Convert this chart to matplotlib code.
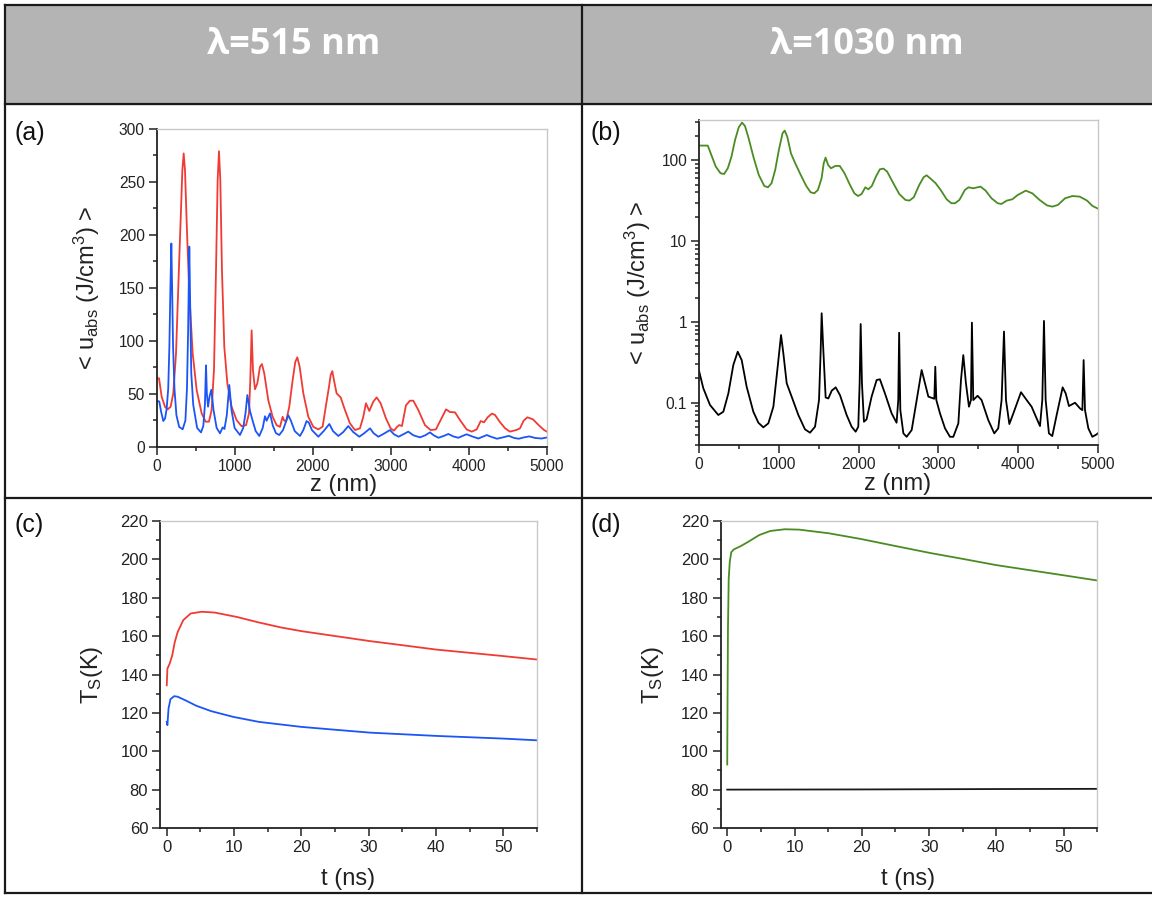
import matplotlib
matplotlib.use("Agg")
import matplotlib.pyplot as plt
from matplotlib.lines import Line2D
from matplotlib.patches import Rectangle
from matplotlib.ticker import MultipleLocator, LogLocator, NullFormatter

plt.rcParams['font.family'] = ['Liberation Sans', 'DejaVu Sans']
plt.rcParams['mathtext.fontset'] = 'custom'
plt.rcParams['mathtext.rm'] = 'Liberation Sans'
plt.rcParams['mathtext.it'] = 'Liberation Sans:italic'

# ---- data ----
# (a) lambda = 515 nm, absorbed energy density vs depth z (nm)
za_red = [0, 32, 66, 109, 143, 181, 215, 250, 279, 309, 331, 348, 365, 390,
          420, 463, 514, 578, 629, 672, 706, 736, 762, 783, 800, 817, 838,
          868, 907, 962, 1026, 1090, 1146, 1184, 1201, 1218, 1235, 1261,
          1291, 1325, 1350, 1380, 1431, 1487, 1538, 1581, 1615, 1632, 1658,
          1700, 1743, 1777, 1803, 1833, 1880, 1944, 2008, 2072, 2127, 2170,
          2209, 2230, 2251, 2272, 2306, 2358, 2413, 2477, 2541, 2605, 2648,
          2682, 2725, 2776, 2819, 2870, 2938, 2998, 3040, 3083, 3109, 3143,
          3194, 3245, 3288, 3352, 3437, 3510, 3578, 3638, 3707, 3758, 3822,
          3886, 3971, 4036, 4100, 4151, 4194, 4240, 4295, 4335, 4393, 4464,
          4526, 4606, 4654, 4701, 4749, 4820, 4891, 4962, 5000]
ua_red = [64.8, 64.8, 47.5, 37.9, 35.5, 38, 50.6, 88.4, 151, 214, 261, 277,
          261, 204, 145, 88.4, 53.8, 31.8, 23.9, 23.9, 35, 72.7, 167, 252,
          279, 252, 167, 94.6, 60, 37.9, 25.3, 19.6, 20.6, 31.6, 63, 110,
          72.7, 54.5, 60, 75.7, 78.2, 69.4, 44.2, 28.5, 20.6, 19, 28.5, 25.3,
          23.9, 38, 63, 80.3, 84.6, 75.7, 50.6, 28.5, 19, 16.6, 19.2, 39.3,
          56.9, 67.9, 71.6, 63.2, 50.6, 46.8, 34.9, 22.3, 16, 17.6, 28.6,
          41.2, 34, 42.8, 46.8, 41.2, 27, 17.6, 15.4, 19.2, 20.7, 19.8,
          39.3, 43.7, 43.7, 34.9, 20.7, 16, 16.6, 25.4, 35.5, 33, 32.7,
          25.4, 16.6, 14.5, 16.6, 24.5, 23.3, 28, 31.5, 30.2, 23.9, 17.6,
          14.5, 16, 17.6, 24.9, 28, 26.1, 20.8, 16, 14.5]
za_blue = [0, 35, 60, 87, 110, 130, 150, 165, 178, 190, 200, 212, 230, 255,
           290, 335, 370, 390, 405, 420, 430, 445, 470, 520, 570, 600, 620,
           634, 645, 660, 680, 702, 730, 770, 813, 847, 870, 900, 932, 960,
           1000, 1069, 1110, 1140, 1163, 1197, 1230, 1270, 1316, 1360, 1389,
           1410, 1453, 1490, 1530, 1572, 1620, 1687, 1720, 1770, 1837, 1880,
           1922, 1950, 1990, 2072, 2140, 2213, 2260, 2328, 2390, 2456, 2520,
           2597, 2660, 2734, 2780, 2840, 2910, 2990, 3040, 3100, 3160, 3224,
           3290, 3374, 3440, 3502, 3550, 3610, 3680, 3737, 3800, 3865, 3920,
           3972, 4040, 4121, 4170, 4228, 4290, 4360, 4430, 4511, 4580, 4640,
           4700, 4772, 4850, 4930, 5000]
ua_blue = [43.4, 43, 33, 24.5, 27, 36, 55, 95, 150, 192, 150, 95, 55, 30,
           19, 16.7, 25, 55, 110, 189, 140, 70, 40, 18, 13.8, 20, 40,
           77, 50, 38, 48, 54, 35, 18, 12.9, 18.5, 17, 30, 58.5, 35,
           18, 11.3, 18, 32, 49, 34, 25, 15, 10.4, 18, 29,
           24.8, 31.7, 20, 13, 11.3, 16, 30, 25, 15, 10.4, 16,
           24.5, 23, 16, 9.7, 15, 21.7, 15, 10.4, 14, 19.8, 14,
           9.7, 13, 17.6, 13, 9.7, 12.5, 16, 12, 9.7, 12, 14.5,
           11, 9.1, 11, 13.8, 11, 8.7, 10.5, 12.3, 10, 8.7, 10.5,
           12, 10, 8, 9.5, 11.3, 9.5, 7.8, 9, 10.5, 8.5, 7.8,
           9, 10, 8.5, 8, 9]

# (b) lambda = 1030 nm (log scale)
zb_green = [0, 110, 155, 210, 270, 315, 361, 407, 452, 498, 539, 576, 622,
            681, 749, 818, 864, 909, 955, 1001, 1047, 1074, 1106, 1152, 1206,
            1275, 1344, 1398, 1444, 1490, 1536, 1563, 1586, 1618, 1654, 1709,
            1764, 1824, 1892, 1947, 1993, 2038, 2084, 2121, 2166, 2221, 2267,
            2312, 2358, 2431, 2509, 2587, 2637, 2692, 2760, 2815, 2852, 2907,
            2966, 3034, 3103, 3162, 3208, 3263, 3332, 3377, 3437, 3528, 3592,
            3665, 3743, 3789, 3857, 3926, 3994, 4095, 4177, 4268, 4360, 4428,
            4497, 4588, 4680, 4771, 4863, 4931, 5000]
ub_green = [152, 152, 116, 83.5, 69, 67.7, 79.6, 111, 178.6, 256, 292.6, 266,
            187, 111, 65.8, 48.1, 46.3, 51.9, 75.9, 134.4, 216, 233, 196, 122,
            91.8, 65.8, 48.1, 40.2, 39, 42.9, 59.8, 91.8, 108, 87.5, 79.6,
            85.1, 85.1, 69, 49.5, 39, 36.1, 38.3, 46.3, 43.7, 48.1, 64, 77.4,
            78.9, 72.4, 52.9, 38.3, 32.3, 31.7, 34.9, 49.5, 61.7, 65.2, 58.7,
            51.9, 42.1, 32.9, 29.4, 29.4, 32.3, 42.9, 46.3, 45, 47.2, 42.1,
            33.9, 29.4, 28.8, 31.7, 32.9, 37.2, 42.1, 39, 32.3, 27.7, 26.7,
            28, 33.9, 36.1, 35.5, 31.7, 27.2, 25.2]
zb_black = [0, 54, 138, 242, 305, 368, 430, 485, 535, 597, 681, 744, 806, 869,
            932, 986, 1028, 1057, 1099, 1161, 1245, 1328, 1391, 1454, 1504,
            1525, 1537, 1558, 1587, 1621, 1663, 1713, 1767, 1850, 1913, 1963,
            1996, 2013, 2026, 2042, 2067, 2100, 2163, 2226, 2267, 2330, 2414,
            2476, 2497, 2508, 2523, 2561, 2602, 2665, 2728, 2790, 2832, 2874,
            2949, 2961, 2974, 3020, 3083, 3145, 3187, 3250, 3283, 3312, 3345,
            3383, 3408, 3420, 3437, 3491, 3541, 3625, 3700, 3750, 3792, 3822,
            3847, 3889, 3939, 4035, 4106, 4168, 4231, 4273, 4302, 4323, 4344,
            4385, 4427, 4482, 4557, 4595, 4636, 4712, 4775, 4804, 4820, 4837,
            4879, 4929, 4983, 5000]
ub_black = [0.249, 0.151, 0.0937, 0.0705, 0.0774, 0.1306, 0.293, 0.428, 0.337,
            0.158, 0.0774, 0.0566, 0.0496, 0.0556, 0.0893, 0.279, 0.689, 0.408,
            0.174, 0.119, 0.0705, 0.0469, 0.0426, 0.0505, 0.108, 0.449, 1.28,
            0.449, 0.116, 0.113, 0.141, 0.155, 0.124, 0.0705, 0.0505, 0.0438,
            0.0505, 0.174, 0.942, 0.174, 0.0582, 0.0623, 0.119, 0.191, 0.195,
            0.1306, 0.0738, 0.0566, 0.108, 0.735, 0.081, 0.0418, 0.0379,
            0.0459, 0.108, 0.254, 0.174, 0.119, 0.112, 0.279, 0.108, 0.0738,
            0.0482, 0.0379, 0.0379, 0.0556, 0.191, 0.389, 0.174, 0.0893,
            0.108, 0.98, 0.108, 0.122, 0.108, 0.061, 0.0418, 0.0482, 0.108,
            0.76, 0.108, 0.0545, 0.0738, 0.135, 0.108, 0.0893, 0.064, 0.0514,
            0.108, 1.03, 0.108, 0.0418, 0.0387, 0.0705, 0.155, 0.1306, 0.091,
            0.1, 0.085, 0.081, 0.337, 0.081, 0.0482, 0.0379, 0.0406, 0.042]

# (c) surface temperature, lambda = 515 nm
tc_red = [0, 0.1, 0.44, 0.82, 1.2, 1.64, 2.47, 3.56, 5.2, 7.1, 10.4, 13.7, 17,
          20, 24.7, 30.2, 35.6, 40, 45, 50, 55]
Tc_red = [134.4, 143, 145.7, 150, 157, 162.3, 168.4, 171.8, 172.7, 172.3, 170,
          167.1, 164.5, 162.6, 160.2, 157.4, 155, 153, 151.3, 149.6, 147.8]
tc_blue = [0, 0.1, 0.27, 0.55, 1.1, 1.64, 2.74, 4.4, 6.6, 9.9, 13.7, 20, 24.7,
           30.2, 40, 50, 55]
Tc_blue = [115.3, 113.6, 122.3, 127.1, 128.7, 128.4, 126.6, 123.7, 120.9, 117.9,
           115.3, 112.7, 111.3, 109.7, 108, 106.6, 105.7]

# (d) surface temperature, lambda = 1030 nm
td_green = [0, 0.05, 0.11, 0.22, 0.38, 0.6, 0.98, 2.06, 3.14, 4.77, 6.4, 8.56,
            10.7, 15.1, 19.9, 24.8, 30.2, 35.1, 40, 44.9, 50, 55]
Td_green = [93.1, 129, 164, 190, 198.8, 203.7, 205.2, 207, 209.2, 212.7, 214.8,
            215.7, 215.5, 213.6, 210.6, 207.1, 203.3, 200.2, 197, 194.4, 191.7,
            189]
td_black = [0, 20, 40, 55]
Td_black = [80.0, 80.1, 80.3, 80.4]

headers = [u"\u03bb=515 nm", u"\u03bb=1030 nm"]
panel_tags = ["(a)", "(b)", "(c)", "(d)"]

red = '#ef3b33'
blue = '#1b55f5'
green = '#4b8c22'
ink = '#222222'

W, H = 1152, 897
fig = plt.figure(figsize=(W / 100, H / 100), dpi=100)


def px(x0, y0, x1, y1):
    # pixel box (top-left origin) -> figure fraction rect
    return [x0 / W, 1 - y1 / H, (x1 - x0) / W, (y1 - y0) / H]


# table-like frame
fig.patches.append(Rectangle((5 / W, 1 - 104 / H), 1 - 5 / W, 99 / H,
                             transform=fig.transFigure, color='#b4b4b4',
                             zorder=0))
lk = dict(color='#1a1a1a', lw=1.6, transform=fig.transFigure)
for y in (5, 104, 498, 893):
    fig.add_artist(Line2D([5 / W, 1], [1 - y / H] * 2, **lk))
for x in (5, 582):
    fig.add_artist(Line2D([x / W] * 2, [1 - 5 / H, 1 - 893 / H], **lk))

for xc, txt in zip((293.5, 867), headers):
    fig.text(xc / W, 1 - 54 / H, txt, color='white', fontsize=26,
             fontweight='bold', ha='center', va='baseline',
             family=['Open Sans', 'DejaVu Sans'])

axa = fig.add_axes(px(156.5, 129, 547, 447))
axb = fig.add_axes(px(699, 120, 1098, 445))
axc = fig.add_axes(px(160, 521, 537, 828))
axd = fig.add_axes(px(720.5, 521, 1097.3, 828))


def style(ax, fs):
    for s in ('top', 'right'):
        ax.spines[s].set_color('#c8c8c8')
        ax.spines[s].set_linewidth(1.0)
    for s in ('left', 'bottom'):
        ax.spines[s].set_color(ink)
        ax.spines[s].set_linewidth(1.3)
    ax.tick_params(which='both', direction='out', top=False, right=False,
                   color=ink, width=1.1, labelsize=fs, labelcolor=ink)
    ax.tick_params(which='major', length=5.5, pad=3)
    ax.tick_params(which='minor', length=3)


# (a)
axa.plot(za_red, ua_red, color=red, lw=1.3)
axa.plot(za_blue, ua_blue, color=blue, lw=1.3)
axa.set_xlim(0, 5000)
axa.set_ylim(0, 300)
axa.xaxis.set_major_locator(MultipleLocator(1000))
axa.xaxis.set_minor_locator(MultipleLocator(500))
axa.yaxis.set_major_locator(MultipleLocator(50))
axa.yaxis.set_minor_locator(MultipleLocator(25))
style(axa, 11.2)

# (b)
axb.plot(zb_green, ub_green, color=green, lw=1.3)
axb.plot(zb_black, ub_black, color='black', lw=1.3)
axb.set_yscale('log')
axb.set_xlim(0, 5000)
axb.set_ylim(0.03, 315)
axb.xaxis.set_major_locator(MultipleLocator(1000))
axb.xaxis.set_minor_locator(MultipleLocator(500))
axb.set_yticks([0.1, 1, 10, 100], labels=['0.1', '1', '10', '100'])
axb.yaxis.set_minor_locator(LogLocator(base=10, subs=range(2, 10)))
axb.yaxis.set_minor_formatter(NullFormatter())
style(axb, 11.2)

# (c)
axc.plot(tc_red, Tc_red, color=red, lw=1.3)
axc.plot(tc_blue, Tc_blue, color=blue, lw=1.3)
# (d)
axd.plot(td_green, Td_green, color=green, lw=1.3)
axd.plot(td_black, Td_black, color='#1a1a1a', lw=1.3)
for ax in (axc, axd):
    ax.set_xlim(-1, 55)
    ax.set_ylim(60, 220)
    ax.xaxis.set_major_locator(MultipleLocator(10))
    ax.xaxis.set_minor_locator(MultipleLocator(5))
    ax.yaxis.set_major_locator(MultipleLocator(20))
    ax.yaxis.set_minor_locator(MultipleLocator(10))
    style(ax, 12)

ulab = r'< u$_{\mathrm{abs}}$ (J/cm$^{3}$) >'
tlab = r'T$_{\mathrm{S}}$(K)'
for ax, xl, yl, ycoord, xcoord in (
        (axa, 'z (nm)', ulab, -0.14, (0.48, -0.085)),
        (axb, 'z (nm)', ulab, -0.115, (0.497, -0.086)),
        (axc, 't (ns)', tlab, -0.146, (0.499, -0.13)),
        (axd, 't (ns)', tlab, -0.145, (0.499, -0.13))):
    ax.set_xlabel(xl, fontsize=17, color=ink)
    ax.set_ylabel(yl, fontsize=17, color=ink)
    ax.xaxis.set_label_coords(*xcoord)
    ax.yaxis.set_label_coords(ycoord, 0.5)

for tag, (x, y) in zip(panel_tags, [(14, 133), (591, 133), (14, 525),
                                    (590, 525)]):
    fig.text(x / W, 1 - y / H, tag, fontsize=18, ha='left', va='center',
             color='#111111')

fig.savefig('out.png', dpi=100, facecolor='white')
